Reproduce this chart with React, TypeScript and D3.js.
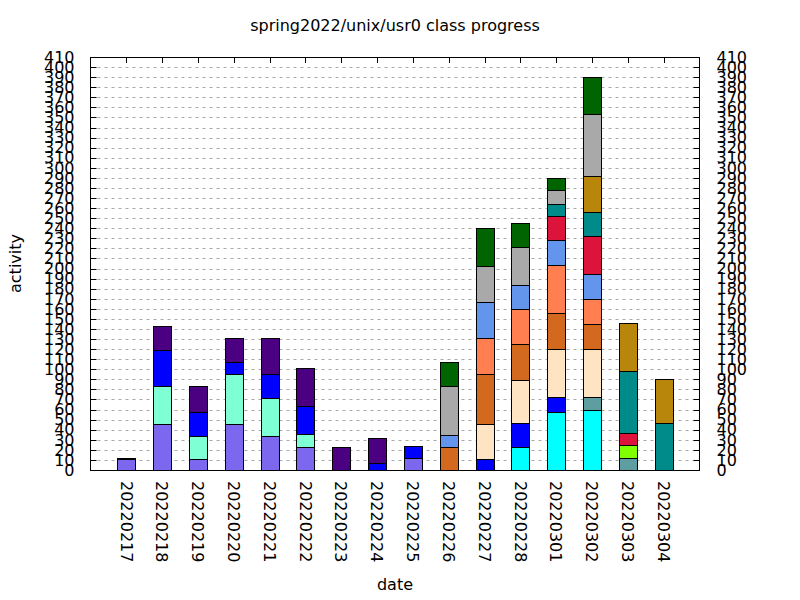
import React from 'react';
import * as d3 from 'd3';

const dates = ['20220217', '20220218', '20220219', '20220220', '20220221', '20220222', '20220223', '20220224',
  '20220225', '20220226', '20220227', '20220228', '20220301', '20220302', '20220303', '20220304'];

// stacking order, bottom to top
const seriesNames = ['mediumslateblue', 'aquamarine', 'cyan', 'blue', 'cadetblue', 'chartreuse', 'bisque', 'chocolate',
  'coral', 'cornflowerblue', 'crimson', 'darkcyan', 'darkgoldenrod', 'darkgray', 'darkgreen', 'indigo'];
const seriesColors = ['#7b68ee', '#7fffd4', '#00ffff', '#0000ff', '#5f9ea0', '#7fff00', '#ffe4c4', '#d2691e',
  '#ff7f50', '#6495ed', '#dc143c', '#008b8b', '#b8860b', '#a9a9a9', '#006400', '#4b0082'];

const mediumslateblue = [11, 46, 11, 46, 34, 23, 0, 0, 12, 0, 0, 0, 0, 0, 0, 0];
const aquamarine = [1, 37, 23, 49, 37, 13, 0, 0, 0, 0, 0, 0, 0, 0, 0, 0];
const cyan = [0, 0, 0, 0, 0, 0, 0, 0, 0, 0, 0, 23, 58, 60, 0, 0];
const blue = [0, 36, 24, 12, 24, 28, 0, 7, 12, 0, 11, 24, 14, 0, 0, 0];
const cadetblue = [0, 0, 0, 0, 0, 0, 0, 0, 0, 0, 0, 0, 0, 12, 12, 0];
const chartreuse = [0, 0, 0, 0, 0, 0, 0, 0, 0, 0, 0, 0, 0, 0, 13, 0];
const bisque = [0, 0, 0, 0, 0, 0, 0, 0, 0, 0, 35, 42, 48, 48, 0, 0];
const chocolate = [0, 0, 0, 0, 0, 0, 0, 0, 0, 23, 49, 36, 36, 25, 0, 0];
const coral = [0, 0, 0, 0, 0, 0, 0, 0, 0, 0, 36, 35, 48, 25, 0, 0];
const cornflowerblue = [0, 0, 0, 0, 0, 0, 0, 0, 0, 12, 36, 24, 24, 25, 0, 0];
const crimson = [0, 0, 0, 0, 0, 0, 0, 0, 0, 0, 0, 0, 24, 37, 12, 0];
const darkcyan = [0, 0, 0, 0, 0, 0, 0, 0, 0, 0, 0, 0, 12, 24, 61, 47];
const darkgoldenrod = [0, 0, 0, 0, 0, 0, 0, 0, 0, 0, 0, 0, 0, 36, 48, 43];
const darkgray = [0, 0, 0, 0, 0, 0, 0, 0, 0, 48, 36, 37, 14, 61, 0, 0];
const darkgreen = [0, 0, 0, 0, 0, 0, 0, 0, 0, 24, 37, 24, 12, 37, 0, 0];
const indigo = [0, 24, 25, 24, 36, 37, 23, 25, 0, 0, 0, 0, 0, 0, 0, 0];

const seriesValues = [mediumslateblue, aquamarine, cyan, blue, cadetblue, chartreuse, bisque, chocolate,
  coral, cornflowerblue, crimson, darkcyan, darkgoldenrod, darkgray, darkgreen, indigo];

const yTicks = d3.range(0, 411, 10);

const W = 800, H = 600;
const left = 90.5, right = 699.5, top = 57, bottom = 470;
const font = '"DejaVu Sans", sans-serif';
const fs = 16;

export default function App() {
  const rows = dates.map((d, i) => {
    const r: any = { date: d };
    seriesNames.forEach((k, j) => { r[k] = seriesValues[j][i]; });
    return r;
  });
  const stacked = d3.stack<any>().keys(seriesNames)(rows);

  const x = d3.scaleLinear().domain([-1, dates.length]).range([left, right]);
  const y = d3.scaleLinear().domain([0, 410]).range([bottom, top]);
  const barW = (x(1) - x(0)) * 0.5;

  return (
    <svg width={W} height={H} style={{ position: 'absolute', left: 0, top: 0, background: '#fff' }}
      fontFamily={font} fontSize={fs}>
      <rect width={W} height={H} fill="#fff" />
      {/* grid */}
      {yTicks.filter(t => t > 0 && t < 410).map(t => (
        <line key={'g' + t} x1={left} x2={right} y1={Math.round(y(t)) + 0.5} y2={Math.round(y(t)) + 0.5}
          stroke="#a8a8a8" strokeWidth={1} strokeDasharray="3,4" />
      ))}
      {/* ticks */}
      {yTicks.map(t => (
        <g key={'t' + t}>
          <line x1={left} x2={left + 6} y1={Math.round(y(t)) + 0.5} y2={Math.round(y(t)) + 0.5} stroke="#000" />
          <line x1={right - 6} x2={right} y1={Math.round(y(t)) + 0.5} y2={Math.round(y(t)) + 0.5} stroke="#000" />
          <text x={left - 16} y={y(t)} dy="0.36em" textAnchor="end">{t}</text>
          <text x={right + 17} y={y(t)} dy="0.36em" textAnchor="start">{t}</text>
        </g>
      ))}
      {dates.map((d, i) => (
        <g key={'x' + d}>
          <line x1={Math.round(x(i)) + 0.5} x2={Math.round(x(i)) + 0.5} y1={top} y2={top + 6} stroke="#000" />
          <line x1={Math.round(x(i)) + 0.5} x2={Math.round(x(i)) + 0.5} y1={bottom} y2={bottom - 6} stroke="#000" />
          <text transform={`translate(${x(i)},${bottom + 11}) rotate(90)`} dy="0.36em" textAnchor="start">{d}</text>
        </g>
      ))}
      {/* bars */}
      {stacked.map((s, j) => (
        <g key={s.key} fill={seriesColors[j]} stroke="#000" strokeWidth={1}>
          {s.map((p, i) => p[1] - p[0] > 0 ? (
            <rect key={i} x={Math.round(x(i) - barW / 2) + 0.5} width={Math.round(barW)}
              y={Math.round(y(p[1])) + 0.5} height={Math.round(y(p[0])) - Math.round(y(p[1]))} />
          ) : null)}
        </g>
      ))}
      {/* border */}
      <rect x={left} y={top + 0.5} width={right - left} height={bottom - top} fill="none" stroke="#000" strokeWidth={1} />
      <text x={(left + right) / 2} y={31} textAnchor="middle">spring2022/unix/usr0 class progress</text>
      <text x={(left + right) / 2} y={590} textAnchor="middle">date</text>
      <text transform={`translate(21,${(top + bottom) / 2}) rotate(-90)`} textAnchor="middle">activity</text>
    </svg>
  );
}
